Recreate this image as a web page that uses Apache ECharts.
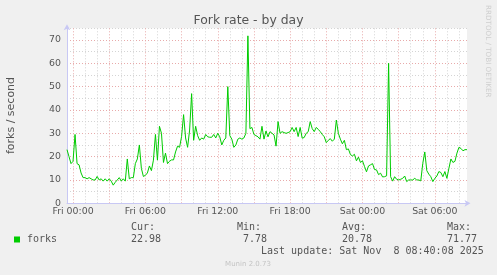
<!DOCTYPE html>
<html><head><meta charset="utf-8">
<script src="https://cdn.jsdelivr.net/npm/echarts@6/dist/echarts.min.js"></script>
<style>html,body{margin:0;padding:0;background:#f0f0f0}#c{width:497px;height:275px}</style>
</head><body><div id="c"></div>
<script>
// ---- data (10-minute samples from Thu 23:30 to Sat 08:40) ----
const titleText = 'Fork rate - by day';
const yAxisTitle = 'forks / second';
const seriesName = 'forks';
const forks = [
  23, 20, 17, 18, 29.5, 17, 16.5, 13, 11, 11,
  10.5, 11, 10.5, 10, 10, 11.5, 10, 10.5, 9.5, 10.5,
  9.5, 10.5, 9.5, 7.78, 9, 10, 11, 9.5, 10.5, 9.5,
  19, 10.5, 11, 11, 17, 19, 25, 15, 11.5, 12,
  13, 16, 14, 18.5, 29.5, 18.5, 33, 30, 17.5, 21.5,
  17, 18, 18.6, 18.6, 22, 24.5, 24, 28.6, 38, 28,
  24, 31.4, 47, 27, 33, 29, 27, 28, 27.5, 29.5,
  28.5, 28.3, 28.3, 29.5, 28, 30, 28.5, 25, 27, 28,
  50, 29, 27.5, 24, 25, 27.5, 28, 27.5, 28, 30,
  71.77, 32, 32.5, 29.5, 29, 28.5, 27.5, 33, 27.5, 31,
  28.5, 30.7, 30, 29.3, 24.5, 35, 30, 30.7, 30.3, 30,
  30.3, 30.7, 32.5, 30.7, 32.5, 28.6, 32.5, 27.9, 28.2, 30,
  30.7, 35, 32, 30.7, 32.5, 31.7, 30.7, 29.5, 28.5, 26,
  27, 27.7, 26.6, 27.5, 35.7, 30, 27.5, 25.5, 27, 23,
  23.3, 20.9, 20.3, 21, 18.2, 19.8, 17.5, 18.2, 15.8, 13.5,
  16, 16.5, 17, 14.5, 14.3, 12.3, 12.9, 11.3, 11.4, 11.8,
  60, 11.4, 9.5, 11.4, 10.3, 10, 10.3, 10.7, 11.7, 9.3,
  10, 10, 10, 10.7, 10, 10, 9.6, 17.1, 22, 14,
  12.5, 11.4, 9.3, 10.7, 11.7, 13.6, 13.2, 11.4, 13.6, 10.7,
  15, 19, 17.5, 18, 21.5, 24, 23.5, 22.5, 23, 22.98
];
const dayNames = ['Thu', 'Fri', 'Sat'];
const startMinute = -30;      // minutes relative to Fri 00:00
const stepMinute = 10;
const xLabelEveryMinutes = 360; // labels every 6 h
const yTickLabels = [0, 10, 20, 30, 40, 50, 60, 70];
const statLabels = ['Cur:', 'Min:', 'Avg:', 'Max:'];
const statValues = ['22.98', '7.78', '20.78', '71.77'];
const lastUpdate = 'Last update: Sat Nov  8 08:40:08 2025';
const footer = 'Munin 2.0.73';
const sideText = 'RRDTOOL / TOBI OETIKER';

// ---- build categories ----
function minuteOf(i) { return startMinute + i * stepMinute; }
const pad = n => String(n).padStart(2, '0');
const categories = forks.map((_, i) => {
  const m = minuteOf(i);
  const d = Math.floor(m / 1440) + 1;
  const mm = ((m % 1440) + 1440) % 1440;
  return dayNames[d] + ' ' + pad(Math.floor(mm / 60)) + ':' + pad(mm % 60);
});
const isHour = i => ((minuteOf(i) % 60) + 60) % 60 === 0;
const isLabel = i => ((minuteOf(i) % xLabelEveryMinutes) + xLabelEveryMinutes) % xLabelEveryMinutes === 0;

const RED = '#e8aaaa', GRAY = '#d4d4d4', AXIS = '#c8c8f4', TXT = '#555';
const sans = 'DejaVu Sans', mono = 'DejaVu Sans Mono';

const statX = [131, 237, 342, 447];
const valX = [131, 243, 342, 447];
const graphic = [
  { type: 'text', x: 11, y: 115.5, rotation: Math.PI / 2,
    style: { text: yAxisTitle, font: '11px "' + sans + '"', fill: TXT, textAlign: 'center', textVerticalAlign: 'middle' } },
  { type: 'text', x: 487.5, y: 5, rotation: -Math.PI / 2,
    style: { text: sideText, font: '7.2px "' + sans + '"', fill: '#cfcfcf', textAlign: 'left', textVerticalAlign: 'middle' } },
  { type: 'rect', shape: { x: 14, y: 236.5, width: 6, height: 6 }, style: { fill: '#00cc00' } },
  { type: 'text', x: 27, y: 239.5, style: { text: seriesName, font: '10px "' + mono + '"', fill: TXT, textVerticalAlign: 'middle' } },
  { type: 'text', x: 261, y: 251.7, style: { text: lastUpdate, font: '10px "' + mono + '"', fill: TXT, textVerticalAlign: 'middle' } },
  { type: 'text', x: 248, y: 264, style: { text: footer, font: '7px "' + sans + '"', fill: '#c4c4c4', textAlign: 'center', textVerticalAlign: 'middle' } }
];
statLabels.forEach((t, k) => {
  graphic.push({ type: 'text', x: statX[k], y: 227.3, style: { text: t, font: '10px "' + mono + '"', fill: TXT, textVerticalAlign: 'middle' } });
  graphic.push({ type: 'text', x: valX[k], y: 239.5, style: { text: statValues[k], font: '10px "' + mono + '"', fill: TXT, textVerticalAlign: 'middle' } });
});

const chart = echarts.init(document.getElementById('c'), null, { renderer: 'canvas' });
chart.setOption({
  animation: false,
  backgroundColor: '#f0f0f0',
  textStyle: { fontFamily: sans },
  title: { text: titleText, left: 'center', top: 10,
    textStyle: { fontSize: 12.4, fontWeight: 'normal', color: TXT, fontFamily: sans } },
  grid: { left: 67, top: 28.3, width: 400, height: 175, show: true, backgroundColor: '#fff', borderWidth: 0 },
  xAxis: {
    type: 'category', data: categories, boundaryGap: false,
    axisLine: { show: true, lineStyle: { color: AXIS, width: 1 }, symbol: ['none', 'arrow'], symbolSize: [5, 6], symbolOffset: [0, 3.5] },
    axisTick: { show: false },
    axisLabel: { interval: (i) => isLabel(i), color: TXT, fontSize: 9.4, fontFamily: sans, margin: 4, hideOverlap: false },
    splitLine: { show: true, interval: (i) => isHour(i), lineStyle: { color: [RED, GRAY, GRAY], type: [1, 2], width: 1 } }
  },
  yAxis: {
    type: 'value', min: 0, max: 75, interval: 5,
    axisLine: { show: true, lineStyle: { color: AXIS, width: 1 }, symbol: ['none', 'arrow'], symbolSize: [5, 6], symbolOffset: [0, 4] },
    axisTick: { show: false },
    axisLabel: { color: TXT, fontSize: 9.4, fontFamily: sans, margin: 6,
      formatter: v => yTickLabels.includes(v) ? String(v) : '' },
    splitLine: { show: true, lineStyle: { color: [RED, GRAY], type: [1, 2], width: 1 } }
  },
  series: [{
    name: seriesName, type: 'line', data: forks, showSymbol: false, symbol: 'none',
    lineStyle: { color: '#00cc00', width: 1 }, itemStyle: { color: '#00cc00' }, z: 5
  }],
  graphic: graphic
});
</script></body></html>
